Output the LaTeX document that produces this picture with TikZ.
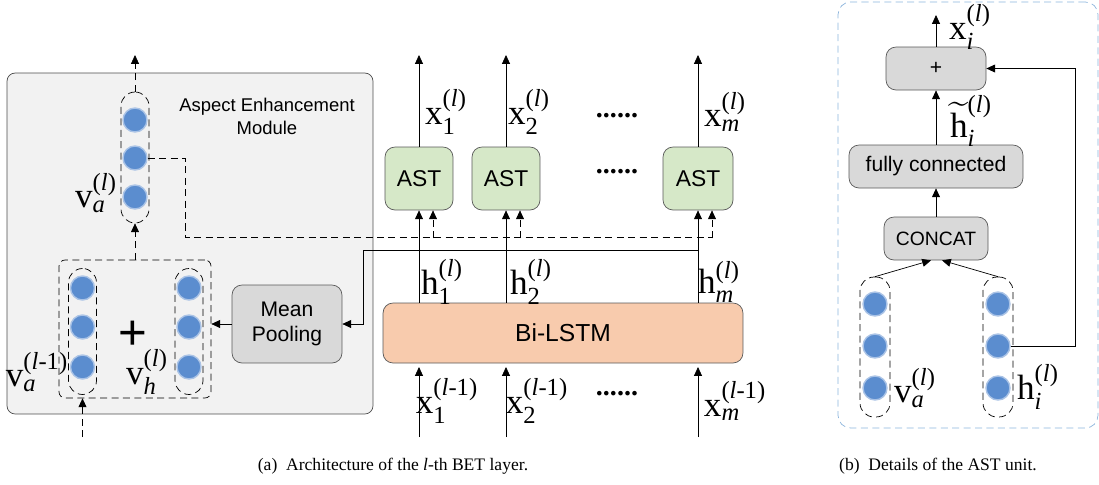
\documentclass[tikz,border=0pt]{standalone}
\usepackage{fontspec}
\usepackage{amsmath}
\setmainfont{Liberation Serif}
\setsansfont{Liberation Sans}
\usetikzlibrary{arrows.meta,calc,positioning}

\definecolor{neuronblue}{RGB}{91,141,207}
\definecolor{neuronhalo}{RGB}{170,195,230}
\definecolor{astgreen}{RGB}{214,232,200}
\definecolor{lstmpeach}{RGB}{248,203,173}
\definecolor{unitblue}{RGB}{140,180,220}

\newcommand{\lbl}[3]{$\text{#1}^{\text{(#3)}}_{#2}$}

\begin{document}
\begin{tikzpicture}[x=0.02cm,y=-0.02cm]
    \tikzset{
        arr/.style={-{Triangle[length=5pt,width=4.5pt]}},
        dline/.style={dash pattern=on 4pt off 2.5pt},
        neuron/.style={circle, fill=neuronblue, draw=neuronhalo, line width=0.8pt, minimum size=0.48cm, inner sep=0pt},
        capsule/.style={draw, dline, rounded corners=0.28cm, minimum width=0.56cm, inner sep=0pt},
        graybox/.style={draw=black!65, fill=black!15, rounded corners=0.2cm, font=\sffamily\fontsize{12}{14}\selectfont, align=center},
        astbox/.style={draw=black!65, fill=astgreen, rounded corners=0.2cm, minimum width=1.36cm, minimum height=1.26cm, font=\sffamily\fontsize{13}{15}\selectfont},
        vlabel/.style={font=\fontsize{20}{22}\selectfont, inner sep=0pt},
        dots/.style={font=\fontsize{16}{18}\selectfont\bfseries},
        caption/.style={font=\fontsize{10}{12}\selectfont},
    }
    \useasboundingbox (0,0) rectangle (1099,484);

    % Aspect enhancement module
    \node[draw=black!70, fill=black!5, rounded corners=0.16cm, minimum width=7.32cm, minimum height=6.82cm] (aem) at (190,243.5) {};
    \node[font=\sffamily\fontsize{10.5}{13}\selectfont, align=center] (aemtitle) at (267,116) {Aspect Enhancement\\Module};

    \node[capsule, minimum height=2.62cm] (vacap) at (135,157.5) {};
    \foreach \y [count=\i] in {120,158,197} \node[neuron] (va\i) at (135,\y) {};
    \node[vlabel] (valbl) at (96,193) {\lbl{v}{\textit{a}}{\textit{l}}};

    \node[draw, dline, rounded corners=0.12cm, minimum width=3.04cm, minimum height=2.76cm] (sum) at (135,329) {};
    \node[capsule, minimum height=2.52cm] (vpcap) at (82.5,331.5) {};
    \node[capsule, minimum height=2.52cm] (vhcap) at (189,331.5) {};
    \foreach \y [count=\i] in {288,327,367} {
        \node[neuron] (vp\i) at (82.5,\y) {};
        \node[neuron] (vh\i) at (189,\y) {};
    }
    \node[font=\sffamily\fontsize{28}{28}\selectfont] (plus) at (133,335) {+};
    \node[vlabel] (vplbl) at (37,372) {\lbl{v}{\textit{a}}{\textit{l}-1}};
    \node[vlabel] (vhlbl) at (147,372) {\lbl{v}{\textit{h}}{\textit{l}}};

    \node[graybox, minimum width=2.2cm, minimum height=1.56cm] (mp) at (287,324) {Mean\\Pooling};

    \coordinate (aemout) at (135,55);
    \coordinate (aemin) at (82.5,437);
    \draw[dline, arr] (vacap.north) -- (aemout);
    \draw[dline, arr] (sum.north) -- (vacap.south);
    \draw[dline, arr] (aemin) -- (sum.south -| vpcap);
    \draw[arr] (mp.west) -- (mp.west -| sum.east);

    % Bi-LSTM and AST units
    \node[draw=black!65, fill=lstmpeach, rounded corners=0.2cm, minimum width=7.2cm, minimum height=1.2cm, font=\sffamily\fontsize{14}{16}\selectfont] (lstm) at (563,333) {Bi-LSTM};
    \node[astbox] (ast1) at (419,178.5) {AST};
    \node[astbox] (ast2) at (506,178.5) {AST};
    \node[astbox, minimum width=1.4cm] (ast3) at (698,178.5) {AST};

    \foreach \a/\x in {1/419,2/506,3/698} {
        \coordinate (out\a) at (\x,55);
        \coordinate (in\a) at (\x,437);
        \coordinate (inend\a) at (\x,367);
        \draw[arr] (lstm.north -| ast\a) -- (ast\a.south);
        \draw[arr] (ast\a.north) -- (out\a);
        \draw[arr] (in\a) -- (inend\a);
        \draw[dline, arr] ($(ast\a.south)+(14,28)$) -- ($(ast\a.south)+(14,0)$);
    }

    \node[vlabel] (x1) at (446,112) {\lbl{x}{\text{1}}{\textit{l}}};
    \node[vlabel] (x2) at (529,112) {\lbl{x}{\text{2}}{\textit{l}}};
    \node[vlabel] (xm) at (725,112) {\lbl{x}{\textit{m}}{\textit{l}}};
    \node[vlabel] (h1) at (442,282) {\lbl{h}{\text{1}}{\textit{l}}};
    \node[vlabel] (h2) at (531,282) {\lbl{h}{\text{2}}{\textit{l}}};
    \node[vlabel] (hm) at (719,282) {\lbl{h}{\textit{m}}{\textit{l}}};
    \node[vlabel] (xp1) at (447,401) {\lbl{x}{\text{1}}{\textit{l}-1}};
    \node[vlabel] (xp2) at (537,401) {\lbl{x}{\text{2}}{\textit{l}-1}};
    \node[vlabel] (xpm) at (735,401) {\lbl{x}{\textit{m}}{\textit{l}-1}};
    \node[dots] (dtop) at (617,116) {......};
    \node[dots] (dmid) at (617,172) {......};
    \node[dots] (dbot) at (617,394) {......};

    % Aspect vector to the AST units
    \coordinate (bend) at (185,237);
    \coordinate (busend) at (712,237);
    \draw[dline] (va2.east) -| (bend) -- (busend);

    % Hidden states to mean pooling
    \coordinate (hmtap) at (698,250);
    \coordinate (tapcorner) at (363,250);
    \draw[arr] (hmtap) -- (tapcorner) |- (mp.east);

    % Details of the AST unit
    \node[draw=unitblue, dline, rounded corners=0.25cm, minimum width=5.2cm, minimum height=8.52cm] (astunit) at (968,215) {};
    \node[graybox, minimum width=2cm, minimum height=0.86cm] (add) at (936,68.5) {+};
    \node[graybox, minimum width=3.48cm, minimum height=0.86cm] (fc) at (936,166.5) {fully connected};
    \node[graybox, minimum width=2.08cm, minimum height=0.86cm, font=\sffamily\fontsize{11}{13}\selectfont] (concat) at (936,238.5) {CONCAT};

    \node[capsule, minimum width=0.6cm, minimum height=2.8cm] (avcap) at (875,347) {};
    \node[capsule, minimum width=0.6cm, minimum height=2.8cm] (hcap) at (998,347) {};
    \foreach \y [count=\i] in {304,346,388} {
        \node[neuron] (av\i) at (875,\y) {};
        \node[neuron] (hi\i) at (998,\y) {};
    }
    \node[vlabel] (xilbl) at (970,27) {\lbl{x}{\textit{i}}{\textit{l}}};
    \node[vlabel] (htlbl) at (971,121) {${\widetilde{\text{h}}}^{\text{(\textit{l})}}_{\textit{i}}$};
    \node[vlabel] (avlbl) at (915,388) {\lbl{v}{\textit{a}}{\textit{l}}};
    \node[vlabel] (hilbl) at (1038,387) {\lbl{h}{\textit{i}}{\textit{l}}};

    \coordinate (xiout) at (936,15);
    \coordinate (skip) at (1075,346);
    \draw[arr] (add.north) -- (xiout);
    \draw[arr] (fc.north) -- (add.south);
    \draw[arr] (concat.north) -- (fc.south);
    \draw[arr] (avcap.north) -- ($(concat.south)+(-5,0)$);
    \draw[arr] (hcap.north) -- ($(concat.south)+(6,0)$);
    \draw[arr] (hi2.east) -- (skip) |- (add.east);

    % Captions
    \node[caption] (capa) at (393,466) {(a)\enspace Architecture of the \textit{l}-th BET layer.};
    \node[caption, anchor=west] (capb) at (833,466) {(b)\enspace Details of the AST unit.};

\end{tikzpicture}
\end{document}
